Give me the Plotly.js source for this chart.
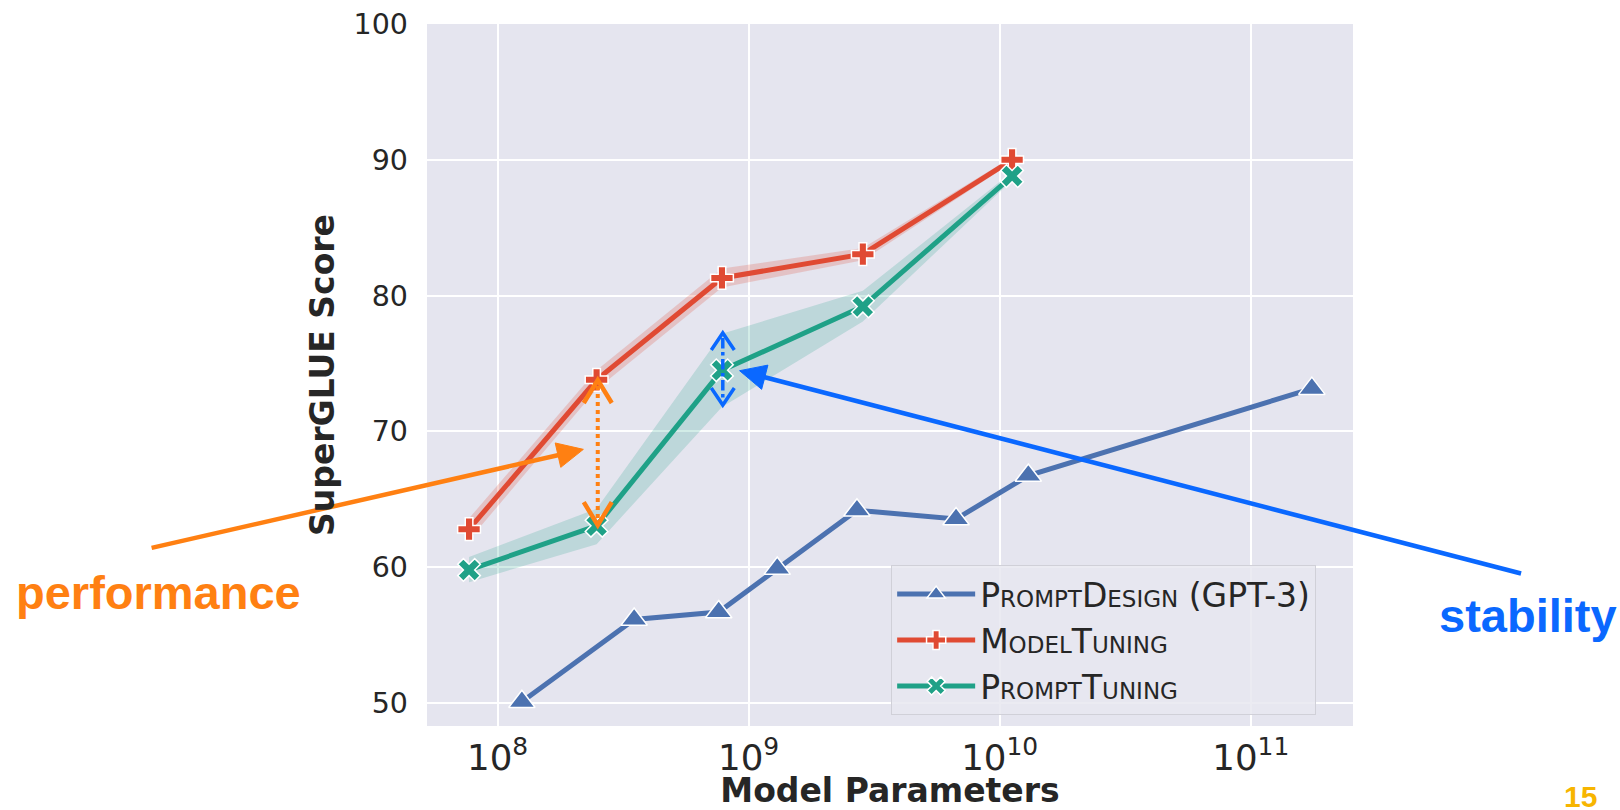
<!DOCTYPE html>
<html>
<head>
<meta charset="utf-8">
<script src="https://cdn.plot.ly/plotly-3.0.1.min.js"></script>
<style>html,body{margin:0;padding:0;background:#fff}#chart{width:1620px;height:810px}</style>
</head>
<body>
<div id="chart"></div>
<script>
// ---- data ----
const seriesNames = ['PromptDesign (GPT-3)', 'ModelTuning', 'PromptTuning'];
const designParams = [1.25e8, 3.5e8, 7.6e8, 1.3e9, 2.7e9, 6.7e9, 1.3e10, 1.75e11];
const designScore = [50.1, 56.15, 56.7, 59.9, 64.2, 63.55, 66.75, 73.15];
const t5Params = [7.7e7, 2.48e8, 7.83e8, 2.85e9, 1.12e10];
const modelTuning = [62.8, 73.8, 81.3, 83.05, 90.0];
const modelTuningLo = [62.0, 73.1, 80.6, 82.6, 89.8];
const modelTuningHi = [63.6, 74.5, 82.0, 83.5, 90.2];
const promptTuning = [59.8, 63.05, 74.5, 79.2, 88.8];
const promptTuningLo = [58.9, 61.7, 71.8, 78.1, 88.5];
const promptTuningHi = [60.75, 64.3, 77.2, 80.35, 89.1];
const yTicks = [50, 60, 70, 80, 90, 100];

// ---- styles ----
const BLUE = '#4C72B0', RED = '#E04A33', GREEN = '#1FA187';
const ORANGE = '#FF8012', ABLUE = '#0A68FF';
const FONT = 'DejaVu Sans';
const W = 1620, H = 810, L = 427, R = 1352.7, T = 24.3, B = 725.7;

function band(x, lo, hi, color) {
  return {
    x: x.concat(x.slice().reverse()),
    y: hi.concat(lo.slice().reverse()),
    type: 'scatter', mode: 'lines', fill: 'toself', fillcolor: color,
    line: {width: 0}, showlegend: false, hoverinfo: 'skip'
  };
}
function series(x, y, name, color, symbol, size) {
  return {
    x: x, y: y, name: name, type: 'scatter', mode: 'lines+markers',
    line: {color: color, width: 5},
    marker: {symbol: symbol, size: size, color: color, line: {color: '#fff', width: 1.5}}
  };
}

const data = [
  band(t5Params, modelTuningLo, modelTuningHi, 'rgba(224,74,51,0.22)'),
  band(t5Params, promptTuningLo, promptTuningHi, 'rgba(31,161,135,0.2)'),
  series(designParams, designScore, seriesNames[0], BLUE, 'triangle-up', 23),
  series(t5Params, modelTuning, seriesNames[1], RED, 'cross', 19),
  series(t5Params, promptTuning, seriesNames[2], GREEN, 'x', 20)
];

// ---- annotation geometry helpers (pixel -> paper) ----
const fx = x => (x - L) / (R - L);
const fy = y => (B - y) / (B - T);
const P = (x, y) => fx(x).toFixed(5) + ',' + fy(y).toFixed(5);
function lineShape(x0, y0, x1, y1, color, width, dash) {
  return {type: 'line', xref: 'paper', yref: 'paper', x0: fx(x0), y0: fy(y0), x1: fx(x1), y1: fy(y1),
    line: {color: color, width: width, dash: dash || 'solid'}, layer: 'above'};
}
function filledArrow(x0, y0, x1, y1, color, width, len, half) {
  const dx = x1 - x0, dy = y1 - y0, d = Math.hypot(dx, dy), ux = dx / d, uy = dy / d, nx = -uy, ny = ux;
  const bx = x1 - ux * len, by = y1 - uy * len;
  return [
    lineShape(x0, y0, bx + ux * 2, by + uy * 2, color, width),
    {type: 'path', xref: 'paper', yref: 'paper', layer: 'above',
     path: 'M' + P(x1, y1) + 'L' + P(bx + nx * half, by + ny * half) + 'L' + P(bx - nx * half, by - ny * half) + 'Z',
     fillcolor: color, line: {color: color, width: 1}}
  ];
}
function openHead(tx, ty, ux, uy, len, half, color, width) {
  const nx = -uy, ny = ux, bx = tx + ux * len, by = ty + uy * len;
  return {type: 'path', xref: 'paper', yref: 'paper', layer: 'above',
    path: 'M' + P(bx + nx * half, by + ny * half) + 'L' + P(tx, ty) + 'L' + P(bx - nx * half, by - ny * half),
    line: {color: color, width: width}};
}

const shapes = [].concat(
  filledArrow(151.7, 547.7, 583.3, 449.3, ORANGE, 4.5, 26, 12.5),
  [lineShape(597.7, 386, 597.7, 520, ORANGE, 4, 'dot'),
   openHead(597.7, 380, 0, 1, 23, 14, ORANGE, 4.5),
   openHead(597.7, 525, 0, -1, 23, 14, ORANGE, 4.5)],
  filledArrow(1520.7, 573.3, 739.5, 370.7, ABLUE, 4.5, 26, 12.5),
  [lineShape(722.7, 338, 722.7, 400, ABLUE, 3.5, 'dashdot'),
   openHead(722.7, 333, 0, 1, 17, 11.5, ABLUE, 3.5),
   openHead(722.7, 405, 0, -1, 17, 11.5, ABLUE, 3.5)]
);

const annotations = [
  {xref: 'paper', yref: 'paper', x: fx(158.3), y: fy(592), xanchor: 'center', yanchor: 'middle', showarrow: false,
   text: '<b>performance</b>', font: {family: 'Liberation Sans', size: 47, color: ORANGE}},
  {xref: 'paper', yref: 'paper', x: fx(1527.5), y: fy(615), xanchor: 'center', yanchor: 'middle', showarrow: false,
   text: '<b>stability</b>', font: {family: 'Liberation Sans', size: 47, color: ABLUE}},
  {xref: 'paper', yref: 'paper', x: fx(1580), y: fy(796), xanchor: 'center', yanchor: 'middle', showarrow: false,
   text: '<b>15</b>', font: {family: 'Liberation Sans', size: 30, color: '#F7B500'}}
];

const layout = {
  width: W, height: H,
  margin: {l: L, r: W - R, t: T, b: H - B, pad: 0},
  paper_bgcolor: '#ffffff', plot_bgcolor: '#E5E5EF',
  showlegend: true,
  xaxis: {
    type: 'log', range: [7.719, 11.407], dtick: 1, exponentformat: 'power',
    showgrid: true, gridcolor: '#ffffff', gridwidth: 2, zeroline: false, showline: false, ticks: '',
    ticklabelstandoff: 7,
    tickfont: {family: FONT, size: 28.5, color: '#262626'},
    title: {text: '<b>Model Parameters</b>', font: {family: FONT, size: 33, color: '#262626'}, standoff: 13},
    automargin: false
  },
  yaxis: {
    range: [48.31, 100], tickvals: yTicks,
    showgrid: true, gridcolor: '#ffffff', gridwidth: 2, zeroline: false, showline: false, ticks: '',
    ticklabelstandoff: 18,
    tickfont: {family: FONT, size: 28.5, color: '#262626'},
    title: {text: '<b>SuperGLUE Score</b>', font: {family: FONT, size: 33, color: '#262626'}, standoff: 9},
    automargin: false
  },
  legend: {
    x: fx(891), y: fy(565), xanchor: 'left', yanchor: 'top',
    bgcolor: 'rgba(232,232,240,0.85)', bordercolor: '#d0d0d8', borderwidth: 1,
    font: {family: FONT, size: 33, color: '#262626', variant: 'small-caps'},
    itemwidth: 78
  },
  shapes: shapes,
  annotations: annotations
};

Plotly.newPlot('chart', data, layout, {displayModeBar: false, staticPlot: true});
</script>
</body>
</html>
